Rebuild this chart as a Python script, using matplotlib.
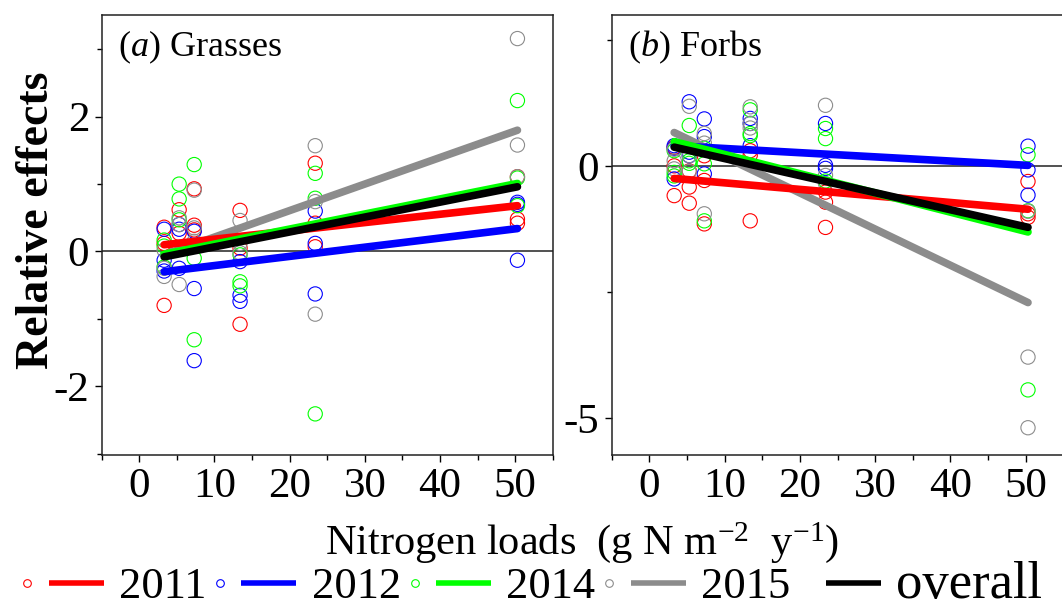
import numpy as np
import matplotlib
matplotlib.use("Agg")
import matplotlib.pyplot as plt
from matplotlib.lines import Line2D
from matplotlib.legend_handler import HandlerBase
from matplotlib.ticker import FixedLocator

plt.rcParams['font.family'] = ['Liberation Serif', 'DejaVu Serif']
plt.rcParams['mathtext.fontset'] = 'custom'
plt.rcParams['mathtext.rm'] = 'Liberation Serif'
plt.rcParams['mathtext.it'] = 'Liberation Serif:italic'
plt.rcParams['axes.unicode_minus'] = False

# ---------------- data ----------------
years = ["2011", "2012", "2014", "2015"]
colors = ["#ff0000", "#0000ff", "#00ff00", "#8c8c8c"]
overall_color = "#000000"

n_loads = [3.3, 5.3, 7.3, 13.4, 23.4, 50.3]

# Grasses: values at each N load (three per load)
grass_2011 = [[0.36, 0.12, -0.80], [0.62, 0.27, 0.05], [0.93, 0.39, 0.32],
              [0.61, 0.05, -1.08], [1.31, 0.42, 0.07], [1.11, 0.48, 0.42]]
grass_2012 = [[0.33, -0.13, -0.29], [0.40, 0.33, -0.25], [0.30, -0.55, -1.62],
              [-0.15, -0.65, -0.74], [0.60, 0.12, -0.63], [0.73, 0.70, -0.13]]
grass_2014 = [[0.17, 0.08, -0.23], [1.00, 0.78, 0.47], [1.29, -0.10, -1.31],
              [-0.05, -0.45, -0.51], [1.16, 0.79, -2.41], [2.24, 1.09, 0.68]]
grass_2015 = [[0.02, -0.25, -0.37], [0.50, 0.40, -0.49], [0.91, 0.35, 0.15],
              [0.46, 0.12, -0.02], [1.57, 0.74, -0.93], [3.16, 1.58, 1.11]]

# Forbs
forb_2011 = [[0.37, 0.00, -0.59], [-0.10, -0.42, -0.74], [0.20, -0.29, -1.15],
             [0.30, 0.21, -1.09], [-0.52, -0.72, -1.22], [-0.31, -0.95, -1.02]]
forb_2012 = [[0.40, 0.35, -0.26], [1.27, 0.27, 0.20], [0.93, 0.58, -0.16],
             [0.94, 0.84, 0.40], [0.84, 0.01, -0.05], [0.39, -0.08, -0.58]]
forb_2014 = [[0.30, -0.13, -0.20], [0.80, 0.05, 0.10], [0.35, 0.04, -1.09],
             [1.11, 0.64, 0.60], [0.74, 0.54, -0.30], [0.22, -0.89, -4.44]]
forb_2015 = [[0.33, -0.06, 0.10], [1.18, 0.20, -0.11], [0.64, 0.45, -0.95],
             [1.17, 0.84, 0.75], [1.20, -0.19, -0.35], [-0.90, -3.79, -5.19]]

# fitted regression lines: order 2011, 2012, 2014, 2015, overall
grass_fit_intercept = [0.059, -0.345, -0.114, -0.180, -0.153]
grass_fit_slope = [0.01234, 0.01362, 0.02234, 0.03936, 0.02213]
forb_fit_intercept = [-0.207, 0.427, 0.606, 0.897, 0.482]
forb_fit_slope = [-0.01298, -0.00830, -0.03810, -0.07170, -0.03380]

grass_series = [grass_2011, grass_2012, grass_2014, grass_2015]
forb_series = [forb_2011, forb_2012, forb_2014, forb_2015]

# ---------------- figure ----------------
fig = plt.figure(figsize=(10.62, 6.14), dpi=100)
ax1 = fig.add_axes([0.0958, 0.259, 0.4247, 0.7166])
ax2 = fig.add_axes([0.576, 0.259, 0.4253, 0.7166])

line_order = [3, 0, 1, 2, 4]  # grey at bottom, overall on top


def draw_panel(ax, series, intercepts, slopes):
    ax.axhline(0, color="#333333", lw=1.2, zorder=1)
    for vals, col in zip(series, colors):
        xs = []
        ys = []
        for xv, group in zip(n_loads, vals):
            for v in group:
                xs.append(xv)
                ys.append(v)
        ax.scatter(xs, ys, s=105, facecolors="none", edgecolors=col,
                   linewidths=0.8, zorder=2)
    xfit = np.array([min(n_loads), max(n_loads)])
    all_cols = colors + [overall_color]
    for k, i in enumerate(line_order):
        ax.plot(xfit, intercepts[i] + slopes[i] * xfit, color=all_cols[i],
                lw=5.5, solid_capstyle="round", zorder=3 + k)


draw_panel(ax1, grass_series, grass_fit_intercept, grass_fit_slope)
draw_panel(ax2, forb_series, forb_fit_intercept, forb_fit_slope)

ax1.set_xlim(-5, 55)
ax1.set_ylim(-3.02, 3.51)
ax2.set_xlim(-5, 55)
ax2.set_ylim(-5.73, 2.99)

for ax in (ax1, ax2):
    ax.xaxis.set_major_locator(FixedLocator([0, 10, 20, 30, 40, 50]))
    ax.xaxis.set_minor_locator(FixedLocator([-5, 5, 15, 25, 35, 45, 55]))
    ax.tick_params(axis="both", which="major", direction="out", length=5,
                   width=1.0, labelsize=31, top=False, right=False, pad=4)
    ax.tick_params(axis="both", which="minor", direction="out", length=3.5,
                   width=1.0, top=False, right=False)
    for sp in ax.spines.values():
        sp.set_linewidth(1.1)
        sp.set_color("#222222")

ax1.yaxis.set_major_locator(FixedLocator([-2, 0, 2]))
ax1.yaxis.set_minor_locator(FixedLocator([-3, -1, 1, 3]))
ax2.yaxis.set_major_locator(FixedLocator([-5, 0]))
ax2.yaxis.set_minor_locator(FixedLocator([-2.5, 2.5]))

ax1.text(0.036, 0.927, r"($\it{a}$) Grasses", transform=ax1.transAxes,
         fontsize=26, ha="left", va="center")
ax2.text(0.036, 0.927, r"($\it{b}$) Forbs", transform=ax2.transAxes,
         fontsize=26, ha="left", va="center")

ax1.set_ylabel("Relative effects", fontsize=33, fontweight="bold")
ax1.yaxis.set_label_coords(-0.098, 0.534)

fig.text(0.548, 0.098, r"Nitrogen loads  (g N m$^{-2}$  y$^{-1}$)",
         fontsize=30.5, ha="center", va="baseline")


# ---------------- legend ----------------
class LegendItem:
    def __init__(self, color, with_marker):
        self.color = color
        self.with_marker = with_marker


class CircleLineHandler(HandlerBase):
    def create_artists(self, legend, orig_handle, xdescent, ydescent,
                       width, height, fontsize, trans):
        y = height / 2.0 - ydescent
        x0 = -xdescent
        arts = []
        ln = Line2D([x0 + width * 0.34, x0 + width], [y, y],
                    color=orig_handle.color, lw=4, solid_capstyle="butt",
                    transform=trans)
        arts.append(ln)
        if orig_handle.with_marker:
            mk = Line2D([x0 + width * 0.08], [y], marker="o", linestyle="none",
                        markerfacecolor="none", markeredgecolor=orig_handle.color,
                        markersize=5.5, markeredgewidth=0.8, transform=trans)
            arts.append(mk)
        return arts


handles = [LegendItem(c, True) for c in colors] + [LegendItem(overall_color, False)]
labels = years + ["overall"]
leg = fig.legend(handles, labels, handler_map={LegendItem: CircleLineHandler()},
                 loc="center left", bbox_to_anchor=(0.019, 0.047), ncol=5,
                 frameon=False, fontsize=32, handlelength=1.875,
                 handletextpad=0.34, columnspacing=0.16, borderpad=0,
                 borderaxespad=0)
leg.get_texts()[-1].set_fontsize(38)

fig.savefig("out.png", dpi=100)
